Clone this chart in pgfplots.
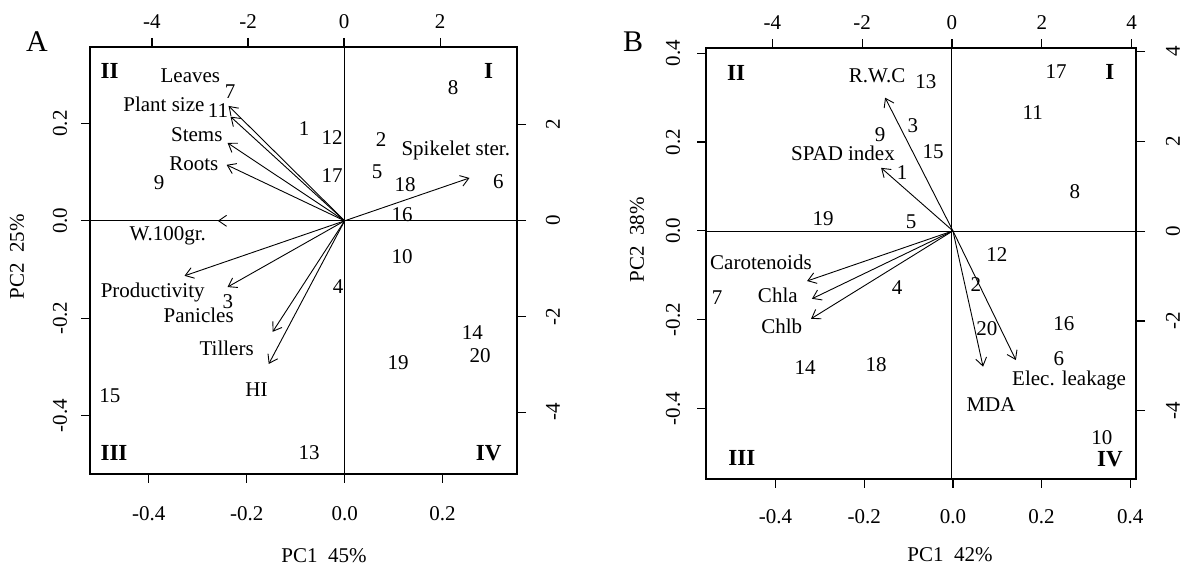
\documentclass[border=0pt]{standalone}
\usepackage{fontspec}
\setmainfont{Liberation Serif}
\usepackage{pgfplots}
\pgfplotsset{compat=1.18}
\usetikzlibrary{arrows.meta}
\newcommand\fs{\fontsize{10.5pt}{12pt}\selectfont}
\newcommand\fq{\fontsize{11.5pt}{13pt}\selectfont\bfseries}
\newcommand\fb{\fontsize{15pt}{17pt}\selectfont}
\pgfplotsset{
  common/.style={anchor=south west, scale only axis, clip=false,
    axis line style={line width=0.6pt}, tick style={line width=0.6pt, black},
    tick align=outside, major tick length=4.5pt, tick label style={font=\fs}},
  arr/.style={line width=0.45pt, -{Straight Barb[length=4pt,width=5.5pt]}},
  txt/.style={draw=none, mark=none, nodes near coords, point meta=explicit symbolic,
    nodes near coords style={anchor=center, font=\fs, inner sep=0pt, text=black}},
}
\begin{document}
\begin{tikzpicture}
\path[use as bounding box] (0,0) rectangle (591pt,283pt);
% ---------------- Panel A : loadings ----------------
\begin{axis}[common, at={(45pt,46pt)}, width=213.5pt, height=213.5pt,
  xmin=-0.520, xmax=0.352, ymin=-0.520, ymax=0.357, tick pos=left,
  xtick={-0.4,-0.2,0,0.2}, xticklabels={-0.4,-0.2,0.0,0.2},
  ytick={-0.4,-0.2,0,0.2}, yticklabels={-0.4,-0.2,0.0,0.2},
  xticklabel style={anchor=center, yshift=-15.5pt},
  yticklabel style={anchor=center, xshift=-10.5pt, rotate=90}]
\addplot[arr] coordinates {(0,0) (-0.237,0.236)};
\addplot[arr] coordinates {(0,0) (-0.233,0.214)};
\addplot[arr] coordinates {(0,0) (-0.239,0.160)};
\addplot[arr] coordinates {(0,0) (-0.241,0.115)};
\addplot[arr] coordinates {(0,0) (-0.259,0.000)};
\addplot[arr] coordinates {(0,0) (-0.327,-0.113)};
\addplot[arr] coordinates {(0,0) (-0.239,-0.136)};
\addplot[arr] coordinates {(0,0) (-0.147,-0.228)};
\addplot[arr] coordinates {(0,0) (-0.155,-0.294)};
\addplot[arr] coordinates {(0,0) (0.255,0.088)};
\addplot[txt] table[meta=lab, col sep=comma, row sep=\\] {
x,y,lab\\
-0.315,0.298,Leaves\\
-0.369,0.240,Plant size\\
-0.302,0.177,Stems\\
-0.308,0.117,Roots\\
-0.361,-0.031,W.100gr.\\
-0.392,-0.148,Productivity\\
-0.298,-0.195,Panicles\\
-0.241,-0.261,Tillers\\
-0.180,-0.347,HI\\
0.227,0.144,Spikelet ster.\\
};
\node[font=\fq] at (axis cs:-0.480,0.308) {II};
\node[font=\fq] at (axis cs:0.294,0.308) {I};
\node[font=\fq] at (axis cs:-0.471,-0.476) {III};
\node[font=\fq] at (axis cs:0.294,-0.478) {IV};
\end{axis}
% ---------------- Panel A : scores ----------------
\begin{axis}[common, at={(45pt,46pt)}, width=213.5pt, height=213.5pt,
  xmin=-5.29, xmax=3.60, ymin=-5.29, ymax=3.62, tick pos=right,
  xtick={-4,-2,0,2}, xticklabels={-4,-2,0,2},
  ytick={-4,-2,0,2}, yticklabels={-4,-2,0,2},
  xticklabel style={anchor=center, yshift=8pt},
  yticklabel style={anchor=center, xshift=13.5pt, rotate=90}]
\draw[line width=0.5pt] (axis cs:0,-5.29) -- (axis cs:0,3.62);
\draw[line width=0.5pt] (axis cs:-5.29,0) -- (axis cs:3.60,0);
\addplot[txt] table[meta=lab, row sep=\\] {
x y lab\\
2.27 2.77 8\\
-0.83 1.92 1\\
-0.25 1.73 12\\
0.77 1.69 2\\
-0.25 0.94 17\\
0.69 1.02 5\\
1.27 0.75 18\\
1.21 0.125 16\\
1.21 -0.75 10\\
3.21 0.81 6\\
-2.375 2.69 7\\
-2.625 2.29 11\\
-3.85 0.79 9\\
-0.125 -1.375 4\\
-2.42 -1.69 3\\
-4.875 -3.65 15\\
-0.73 -4.85 13\\
1.125 -2.96 19\\
2.67 -2.33 14\\
2.83 -2.83 20\\
};
\end{axis}
% ---------------- Panel B : loadings ----------------
\begin{axis}[common, at={(353pt,43.5pt)}, width=215pt, height=215.5pt,
  xmin=-0.557, xmax=0.413, ymin=-0.559, ymax=0.412, tick pos=left,
  xtick={-0.4,-0.2,0,0.2,0.4}, xticklabels={-0.4,-0.2,0.0,0.2,0.4},
  ytick={-0.4,-0.2,0,0.2,0.4}, yticklabels={-0.4,-0.2,0.0,0.2,0.4},
  xticklabel style={anchor=center, yshift=-14.5pt},
  yticklabel style={anchor=center, xshift=-12pt, rotate=90}]
\addplot[arr] coordinates {(0,0) (-0.153,0.300)};
\addplot[arr] coordinates {(0,0) (-0.162,0.142)};
\addplot[arr] coordinates {(0,0) (-0.329,-0.113)};
\addplot[arr] coordinates {(0,0) (-0.318,-0.153)};
\addplot[arr] coordinates {(0,0) (-0.320,-0.198)};
\addplot[arr] coordinates {(0,0) (0.068,-0.306)};
\addplot[arr] coordinates {(0,0) (0.142,-0.291)};
\addplot[txt] table[meta=lab, col sep=comma, row sep=\\] {
x,y,lab\\
-0.171,0.349,R.W.C\\
-0.248,0.174,SPAD index\\
-0.433,-0.070,Carotenoids\\
-0.395,-0.146,Chla\\
-0.386,-0.216,Chlb\\
0.086,-0.392,MDA\\
0.262,-0.338,Elec. leakage\\
};
\node[font=\fq] at (axis cs:-0.489,0.356) {II};
\node[font=\fq] at (axis cs:0.354,0.358) {I};
\node[font=\fq] at (axis cs:-0.476,-0.512) {III};
\node[font=\fq] at (axis cs:0.354,-0.514) {IV};
\end{axis}
% ---------------- Panel B : scores ----------------
\begin{axis}[common, at={(353pt,43.5pt)}, width=215pt, height=215.5pt,
  xmin=-5.48, xmax=4.10, ymin=-5.52, ymax=4.08, tick pos=right,
  xtick={-4,-2,0,2,4}, xticklabels={-4,-2,0,2,4},
  ytick={-4,-2,0,2,4}, yticklabels={-4,-2,0,2,4},
  xticklabel style={anchor=center, yshift=8pt},
  yticklabel style={anchor=center, xshift=14pt, rotate=90}]
\draw[line width=0.5pt] (axis cs:0,-5.52) -- (axis cs:0,4.08);
\draw[line width=0.5pt] (axis cs:-5.48,0) -- (axis cs:4.10,0);
\addplot[txt] table[meta=lab, row sep=\\] {
x y lab\\
-0.58 3.32 13\\
-0.87 2.36 3\\
-1.60 2.16 9\\
-0.42 1.76 15\\
-1.11 1.31 1\\
-2.87 0.29 19\\
-0.91 0.22 5\\
2.32 3.56 17\\
1.80 2.65 11\\
2.74 0.89 8\\
1.00 -0.53 12\\
-1.22 -1.25 4\\
-5.23 -1.47 7\\
-3.27 -3.03 14\\
-1.69 -2.98 18\\
0.53 -1.20 2\\
0.78 -2.18 20\\
2.49 -2.05 16\\
2.38 -2.83 6\\
3.34 -4.59 10\\
};
\end{axis}
% ---------------- titles and axis labels ----------------
\node[font=\fb] at (18.5pt,262pt) {A};
\node[font=\fb] at (316.5pt,262pt) {B};
\node[font=\fs] at (162pt,5pt) {PC1\ \ 45\%};
\node[font=\fs] at (475pt,5.5pt) {PC1\ \ 42\%};
\node[font=\fs, rotate=90] at (8.5pt,154.5pt) {PC2\ \ 25\%};
\node[font=\fs, rotate=90] at (318.5pt,163pt) {PC2\ \ 38\%};
\end{tikzpicture}
\end{document}
